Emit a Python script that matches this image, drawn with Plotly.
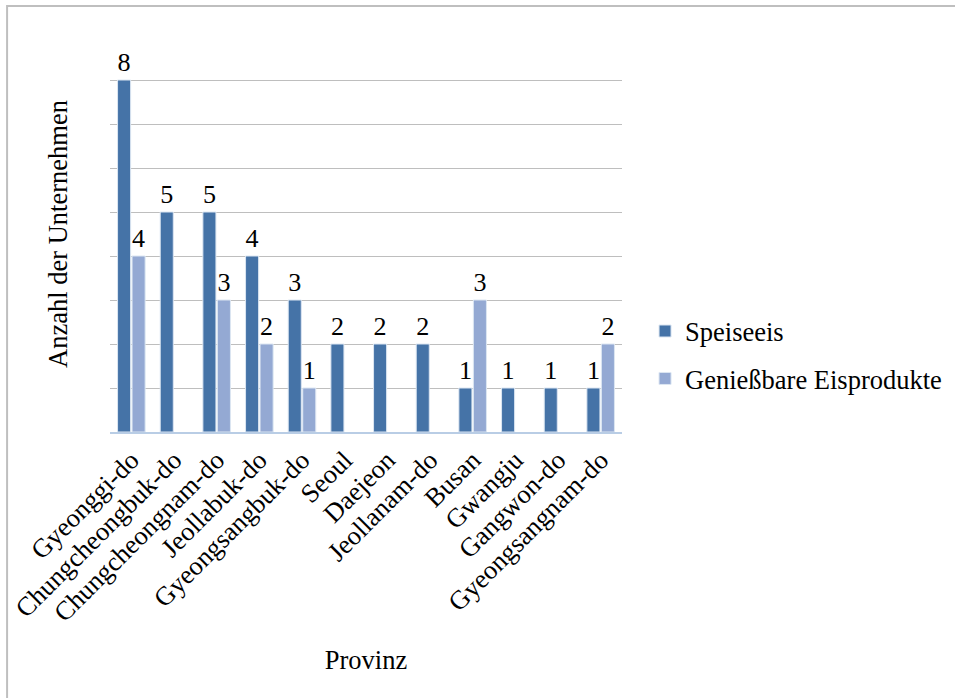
import plotly.graph_objects as go

provinces = ["Gyeonggi-do", "Chungcheongbuk-do", "Chungcheongnam-do", "Jeollabuk-do",
             "Gyeongsangbuk-do", "Seoul", "Daejeon", "Jeollanam-do", "Busan",
             "Gwangju", "Gangwon-do", "Gyeongsangnam-do"]
speiseeis = [8, 5, 5, 4, 3, 2, 2, 2, 1, 1, 1, 1]
eisprodukte = [4, None, 3, 2, 1, None, None, None, 3, None, None, 2]

FONT = "Times New Roman, serif"
FS = 26.5

fig = go.Figure()
fig.add_trace(go.Bar(
    name="Speiseeis", x=provinces, y=speiseeis, legendgroup="a",
    marker=dict(color="#4573A7", line=dict(color="#DCE6F2", width=1)),
    text=speiseeis, textposition="outside", cliponaxis=False,
    textfont=dict(family=FONT, size=FS, color="black"),
))
fig.add_trace(go.Bar(
    name="Genießbare Eisprodukte", x=provinces, y=eisprodukte, legendgroup="b",
    marker=dict(color="#94A9D3", line=dict(color="#DCE6F2", width=1)),
    text=[("" if v is None else v) for v in eisprodukte], textposition="outside",
    cliponaxis=False,
    textfont=dict(family=FONT, size=FS, color="black"),
))

fig.update_layout(
    width=955, height=698,
    margin=dict(l=110, r=333, t=36, b=266, autoexpand=False),
    paper_bgcolor="white", plot_bgcolor="white",
    font=dict(family=FONT, size=FS, color="black"),
    barmode="group", bargap=0.32, bargroupgap=0.1,
    showlegend=True,
    legend=dict(x=1.045, y=0.195, xanchor="left", yanchor="middle",
                font=dict(family=FONT, size=FS), tracegroupgap=10,
                itemwidth=30, bgcolor="rgba(0,0,0,0)"),
    xaxis=dict(tickangle=-45, showline=True, linecolor="#B9CDE5", linewidth=2,
               ticks="", showgrid=False,
               tickfont=dict(family=FONT, size=FS),
               title=dict(text="Provinz", standoff=24,
                          font=dict(family=FONT, size=FS))),
    yaxis=dict(range=[0, 9], dtick=1, showticklabels=False, zeroline=False,
               showgrid=True, gridcolor="#BEBEBE", gridwidth=1, showline=False,
               title=dict(text="Anzahl der Unternehmen", standoff=33,
                          font=dict(family=FONT, size=FS))),
    shapes=[dict(type="rect", xref="paper", yref="paper",
                 x0=-0.201, x1=1.8, y0=-0.8, y1=1.076,
                 line=dict(color="#BFBFBF", width=2), fillcolor="rgba(0,0,0,0)",
                 layer="below")],
)

fig.write_html("out.html")
